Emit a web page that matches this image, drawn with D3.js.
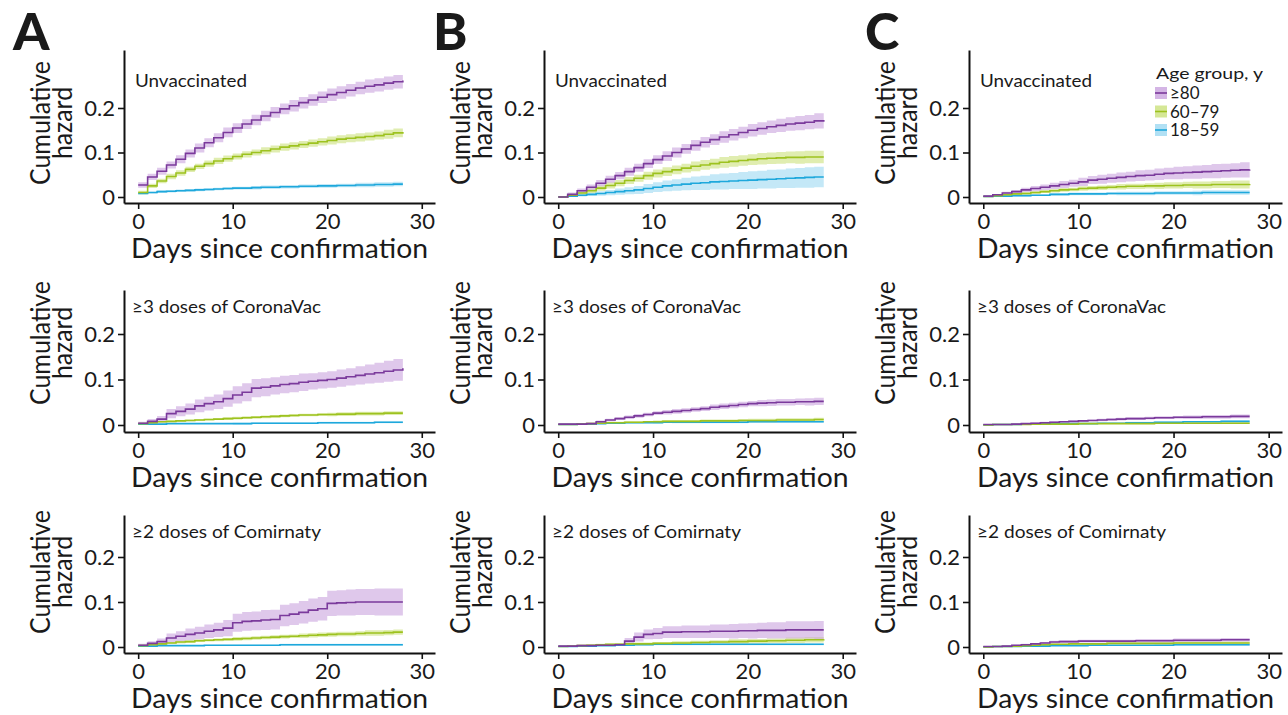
<!DOCTYPE html>
<html>
<head>
<meta charset="utf-8">
<script src="https://cdn.jsdelivr.net/npm/d3@7"></script>
<style>
  html, body { margin: 0; padding: 0; background: #ffffff; }
  svg { display: block; }
  text { font-family: Lato, "Open Sans", "DejaVu Sans", sans-serif; fill: #1a1a1a; }
</style>
</head>
<body>
<svg id="chart" width="1288" height="715"></svg>
<script>
// ---- Data -------------------------------------------------------------
const days = [0,1,2,3,4,5,6,7,8,9,10,11,12,13,14,15,16,17,18,19,20,21,22,23,24,25,26,27,28];
const panelLetters = ["A", "B", "C"];
const cohortLabels = ["Unvaccinated", "\u22653 doses of CoronaVac", "\u22652 doses of Comirnaty"];
const ageGroups = ["\u226580", "60\u201379", "18\u201359"];
const xTicks = [0, 10, 20, 30];
const yTicks = [0, 0.1, 0.2];
const yTickLabels = ["0", "0.1", "0.2"];

// Cumulative hazard (line) and half-width of the 95% band, per day
// Panel A, unvaccinated
const A_unv_80    = [0.027,0.045,0.058,0.072,0.085,0.098,0.110,0.122,0.133,0.145,0.155,0.164,0.173,0.182,0.190,0.198,0.205,0.212,0.218,0.224,0.230,0.235,0.240,0.245,0.249,0.252,0.256,0.259,0.262];
const A_unv_80_ci = [0.006,0.007,0.008,0.008,0.009,0.009,0.010,0.010,0.010,0.011,0.011,0.011,0.012,0.012,0.012,0.012,0.013,0.013,0.013,0.013,0.014,0.014,0.014,0.014,0.015,0.015,0.015,0.015,0.016];
const A_unv_60    = [0.010,0.025,0.036,0.046,0.054,0.062,0.069,0.075,0.081,0.086,0.091,0.096,0.100,0.104,0.108,0.112,0.115,0.118,0.121,0.124,0.127,0.130,0.132,0.134,0.136,0.138,0.141,0.144,0.146];
const A_unv_60_ci = [0.004,0.005,0.005,0.006,0.006,0.006,0.006,0.007,0.007,0.007,0.007,0.007,0.007,0.008,0.008,0.008,0.008,0.008,0.008,0.008,0.009,0.009,0.009,0.009,0.009,0.009,0.010,0.010,0.010];
const A_unv_18    = [0.008,0.010,0.012,0.013,0.014,0.015,0.016,0.017,0.018,0.019,0.020,0.020,0.021,0.022,0.022,0.023,0.023,0.024,0.024,0.025,0.025,0.026,0.026,0.027,0.027,0.028,0.028,0.029,0.029];
const A_unv_18_ci = [0.002,0.002,0.003,0.003,0.003,0.003,0.003,0.003,0.003,0.003,0.003,0.003,0.004,0.004,0.004,0.004,0.004,0.004,0.004,0.004,0.004,0.004,0.004,0.005,0.005,0.005,0.005,0.005,0.005];

// Panel B, unvaccinated
const B_unv_80    = [0.000,0.006,0.014,0.022,0.031,0.040,0.048,0.057,0.066,0.075,0.084,0.092,0.100,0.108,0.116,0.123,0.129,0.135,0.140,0.145,0.150,0.154,0.158,0.161,0.164,0.166,0.168,0.171,0.173];
const B_unv_80_ci = [0.002,0.004,0.005,0.006,0.007,0.008,0.008,0.009,0.009,0.010,0.010,0.011,0.011,0.011,0.012,0.012,0.012,0.013,0.013,0.013,0.014,0.014,0.014,0.015,0.015,0.016,0.016,0.017,0.017];
const B_unv_60    = [0.000,0.004,0.009,0.014,0.020,0.026,0.031,0.037,0.042,0.048,0.053,0.057,0.061,0.065,0.069,0.072,0.075,0.078,0.080,0.082,0.084,0.086,0.087,0.088,0.089,0.089,0.090,0.090,0.090];
const B_unv_60_ci = [0.001,0.003,0.004,0.005,0.006,0.007,0.007,0.008,0.008,0.009,0.009,0.010,0.010,0.010,0.011,0.011,0.011,0.012,0.012,0.012,0.012,0.013,0.013,0.013,0.013,0.014,0.014,0.014,0.014];
const B_unv_18    = [0.000,0.002,0.004,0.006,0.008,0.010,0.012,0.014,0.016,0.019,0.022,0.025,0.027,0.029,0.031,0.032,0.034,0.035,0.036,0.037,0.038,0.039,0.040,0.041,0.042,0.043,0.044,0.045,0.045];
const B_unv_18_ci = [0.001,0.002,0.003,0.004,0.005,0.006,0.007,0.008,0.009,0.010,0.011,0.012,0.013,0.014,0.015,0.016,0.017,0.018,0.018,0.019,0.020,0.020,0.021,0.021,0.022,0.022,0.023,0.023,0.024];

// Panel C, unvaccinated
const C_unv_80    = [0.002,0.005,0.009,0.012,0.016,0.019,0.022,0.025,0.028,0.031,0.034,0.038,0.040,0.042,0.044,0.046,0.048,0.049,0.051,0.053,0.054,0.055,0.056,0.057,0.058,0.059,0.060,0.061,0.062];
const C_unv_80_ci = [0.001,0.002,0.003,0.004,0.005,0.006,0.006,0.007,0.008,0.008,0.009,0.009,0.010,0.010,0.011,0.011,0.012,0.012,0.013,0.013,0.014,0.014,0.015,0.015,0.016,0.016,0.016,0.017,0.017];
const C_unv_60    = [0.001,0.003,0.005,0.007,0.008,0.010,0.012,0.014,0.016,0.017,0.019,0.020,0.021,0.022,0.023,0.024,0.024,0.025,0.025,0.026,0.026,0.027,0.027,0.027,0.028,0.028,0.028,0.028,0.029];
const C_unv_60_ci = [0.001,0.001,0.002,0.002,0.003,0.003,0.003,0.004,0.004,0.004,0.005,0.005,0.005,0.005,0.006,0.006,0.006,0.006,0.007,0.007,0.007,0.007,0.008,0.008,0.008,0.008,0.009,0.009,0.009];
const C_unv_18    = [0.001,0.002,0.002,0.003,0.003,0.004,0.004,0.006,0.006,0.007,0.007,0.007,0.007,0.008,0.008,0.008,0.008,0.008,0.009,0.009,0.009,0.009,0.009,0.010,0.010,0.010,0.010,0.010,0.010];
const C_unv_18_ci = [0.001,0.001,0.001,0.002,0.002,0.002,0.002,0.003,0.003,0.003,0.003,0.003,0.003,0.003,0.004,0.004,0.004,0.004,0.004,0.004,0.004,0.004,0.005,0.005,0.005,0.005,0.005,0.005,0.005];

// Panel A, >=3 doses CoronaVac
const A_cor_80    = [0.004,0.008,0.013,0.025,0.030,0.035,0.042,0.047,0.051,0.058,0.066,0.072,0.081,0.083,0.086,0.089,0.091,0.094,0.096,0.098,0.100,0.103,0.106,0.109,0.112,0.115,0.118,0.121,0.125];
const A_cor_80_ci = [0.003,0.005,0.007,0.010,0.011,0.012,0.014,0.015,0.016,0.018,0.019,0.020,0.020,0.020,0.019,0.019,0.019,0.019,0.018,0.018,0.018,0.019,0.019,0.020,0.021,0.022,0.023,0.024,0.025];
const A_cor_60    = [0.003,0.005,0.007,0.008,0.009,0.010,0.011,0.012,0.013,0.014,0.015,0.016,0.017,0.018,0.019,0.020,0.021,0.022,0.022,0.023,0.023,0.024,0.024,0.025,0.025,0.025,0.026,0.026,0.026];
const A_cor_60_ci = [0.001,0.001,0.002,0.002,0.002,0.002,0.002,0.002,0.002,0.003,0.003,0.003,0.003,0.003,0.003,0.003,0.003,0.003,0.003,0.003,0.004,0.004,0.004,0.004,0.004,0.004,0.004,0.004,0.004];
const A_cor_18    = [0.002,0.002,0.002,0.003,0.003,0.003,0.003,0.003,0.003,0.003,0.003,0.003,0.004,0.004,0.004,0.004,0.004,0.004,0.004,0.005,0.005,0.005,0.005,0.005,0.005,0.006,0.006,0.006,0.006];
const A_cor_18_ci = [0.001,0.001,0.001,0.001,0.001,0.001,0.001,0.001,0.001,0.001,0.002,0.002,0.002,0.002,0.002,0.002,0.002,0.002,0.002,0.002,0.002,0.002,0.002,0.002,0.002,0.002,0.002,0.002,0.002];

// Panel B, >=3 doses CoronaVac
const B_cor_80    = [0.002,0.002,0.002,0.003,0.007,0.011,0.014,0.017,0.020,0.023,0.026,0.028,0.030,0.032,0.034,0.036,0.039,0.041,0.043,0.045,0.047,0.048,0.049,0.050,0.050,0.051,0.051,0.052,0.052];
const B_cor_80_ci = [0.001,0.001,0.001,0.002,0.003,0.003,0.003,0.004,0.004,0.004,0.004,0.005,0.005,0.005,0.005,0.005,0.006,0.006,0.006,0.006,0.006,0.007,0.007,0.007,0.007,0.007,0.008,0.008,0.008];
const B_cor_60    = [0.001,0.001,0.002,0.003,0.004,0.005,0.005,0.006,0.006,0.007,0.007,0.008,0.008,0.008,0.008,0.009,0.009,0.009,0.009,0.010,0.010,0.010,0.010,0.011,0.011,0.011,0.011,0.012,0.012];
const B_cor_60_ci = [0.001,0.001,0.001,0.002,0.002,0.002,0.002,0.002,0.002,0.002,0.003,0.003,0.003,0.003,0.003,0.003,0.003,0.003,0.003,0.003,0.004,0.004,0.004,0.004,0.004,0.004,0.004,0.004,0.004];
const B_cor_18    = [0.001,0.001,0.002,0.002,0.003,0.004,0.004,0.005,0.005,0.005,0.005,0.006,0.006,0.006,0.006,0.006,0.006,0.006,0.006,0.006,0.007,0.007,0.007,0.007,0.007,0.007,0.007,0.007,0.007];
const B_cor_18_ci = [0.001,0.001,0.001,0.001,0.001,0.001,0.001,0.001,0.001,0.001,0.001,0.001,0.002,0.002,0.002,0.002,0.002,0.002,0.002,0.002,0.002,0.002,0.002,0.002,0.002,0.002,0.002,0.002,0.002];

// Panel C, >=3 doses CoronaVac
const C_cor_80    = [0.001,0.001,0.001,0.002,0.003,0.004,0.005,0.006,0.007,0.008,0.009,0.010,0.011,0.012,0.013,0.014,0.014,0.015,0.016,0.016,0.017,0.017,0.017,0.018,0.018,0.018,0.019,0.019,0.019];
const C_cor_80_ci = [0.001,0.001,0.001,0.001,0.001,0.002,0.002,0.002,0.002,0.002,0.002,0.002,0.003,0.003,0.003,0.003,0.003,0.003,0.003,0.003,0.003,0.004,0.004,0.004,0.004,0.004,0.004,0.004,0.004];
const C_cor_60    = [0.000,0.001,0.001,0.001,0.001,0.002,0.002,0.002,0.002,0.002,0.003,0.003,0.003,0.003,0.003,0.003,0.003,0.003,0.004,0.004,0.004,0.004,0.004,0.004,0.004,0.004,0.004,0.004,0.004];
const C_cor_60_ci = [0.000,0.001,0.001,0.001,0.001,0.001,0.001,0.001,0.001,0.001,0.001,0.001,0.001,0.001,0.001,0.001,0.001,0.001,0.002,0.002,0.002,0.002,0.002,0.002,0.002,0.002,0.002,0.002,0.002];
const C_cor_18    = [0.000,0.001,0.001,0.001,0.002,0.002,0.002,0.003,0.003,0.003,0.003,0.003,0.004,0.004,0.004,0.005,0.005,0.005,0.006,0.006,0.006,0.007,0.007,0.007,0.007,0.008,0.008,0.008,0.008];
const C_cor_18_ci = [0.000,0.001,0.001,0.001,0.001,0.001,0.001,0.001,0.001,0.001,0.001,0.001,0.001,0.001,0.001,0.002,0.002,0.002,0.002,0.002,0.002,0.002,0.002,0.002,0.002,0.002,0.002,0.002,0.002];

// Panel A, >=2 doses Comirnaty
const A_com_80    = [0.004,0.008,0.012,0.020,0.024,0.028,0.031,0.035,0.038,0.042,0.054,0.057,0.058,0.060,0.061,0.070,0.073,0.077,0.082,0.085,0.097,0.098,0.099,0.100,0.100,0.100,0.100,0.100,0.100];
const A_com_80_ci = [0.003,0.005,0.007,0.010,0.011,0.013,0.014,0.015,0.016,0.018,0.020,0.021,0.021,0.022,0.022,0.024,0.024,0.025,0.026,0.026,0.028,0.028,0.029,0.029,0.029,0.030,0.030,0.030,0.030];
const A_com_60    = [0.003,0.005,0.007,0.009,0.011,0.012,0.014,0.015,0.016,0.017,0.018,0.019,0.020,0.021,0.022,0.023,0.024,0.025,0.026,0.027,0.028,0.029,0.029,0.030,0.031,0.031,0.032,0.033,0.033];
const A_com_60_ci = [0.001,0.002,0.002,0.002,0.003,0.003,0.003,0.003,0.003,0.003,0.004,0.004,0.004,0.004,0.004,0.004,0.004,0.005,0.005,0.005,0.005,0.005,0.005,0.005,0.006,0.006,0.006,0.006,0.006];
const A_com_18    = [0.002,0.002,0.003,0.003,0.003,0.003,0.003,0.004,0.004,0.004,0.004,0.004,0.004,0.004,0.004,0.005,0.005,0.005,0.005,0.005,0.005,0.005,0.005,0.005,0.005,0.005,0.005,0.005,0.005];
const A_com_18_ci = [0.001,0.001,0.001,0.001,0.001,0.001,0.001,0.001,0.001,0.001,0.001,0.001,0.001,0.001,0.001,0.002,0.002,0.002,0.002,0.002,0.002,0.002,0.002,0.002,0.002,0.002,0.002,0.002,0.002];

// Panel B, >=2 doses Comirnaty
const B_com_80    = [0.002,0.002,0.003,0.003,0.004,0.004,0.005,0.013,0.022,0.028,0.030,0.033,0.033,0.034,0.034,0.034,0.035,0.035,0.035,0.036,0.036,0.037,0.037,0.037,0.038,0.038,0.038,0.038,0.038];
const B_com_80_ci = [0.001,0.001,0.002,0.002,0.002,0.002,0.003,0.007,0.010,0.011,0.012,0.013,0.013,0.014,0.014,0.014,0.015,0.015,0.016,0.016,0.017,0.017,0.018,0.018,0.019,0.019,0.019,0.020,0.020];
const B_com_60    = [0.001,0.002,0.003,0.004,0.005,0.006,0.006,0.007,0.007,0.007,0.008,0.008,0.009,0.009,0.010,0.010,0.011,0.011,0.012,0.012,0.013,0.013,0.014,0.014,0.015,0.015,0.016,0.016,0.017];
const B_com_60_ci = [0.001,0.001,0.002,0.002,0.002,0.002,0.003,0.003,0.003,0.003,0.003,0.003,0.004,0.004,0.004,0.004,0.004,0.004,0.005,0.005,0.005,0.005,0.005,0.005,0.006,0.006,0.006,0.006,0.006];
const B_com_18    = [0.001,0.001,0.002,0.002,0.003,0.003,0.004,0.004,0.005,0.005,0.006,0.006,0.006,0.006,0.006,0.006,0.006,0.006,0.006,0.006,0.006,0.006,0.006,0.006,0.006,0.006,0.006,0.006,0.006];
const B_com_18_ci = [0.001,0.001,0.001,0.001,0.001,0.001,0.001,0.001,0.001,0.001,0.002,0.002,0.002,0.002,0.002,0.002,0.002,0.002,0.002,0.002,0.002,0.002,0.002,0.002,0.002,0.002,0.002,0.002,0.002];

// Panel C, >=2 doses Comirnaty
const C_com_80    = [0.001,0.001,0.002,0.004,0.005,0.007,0.009,0.011,0.012,0.012,0.013,0.013,0.013,0.013,0.013,0.013,0.014,0.014,0.014,0.014,0.015,0.015,0.015,0.015,0.015,0.016,0.016,0.016,0.016];
const C_com_80_ci = [0.001,0.001,0.001,0.001,0.002,0.002,0.002,0.003,0.003,0.003,0.003,0.003,0.003,0.003,0.003,0.003,0.004,0.004,0.004,0.004,0.004,0.004,0.004,0.004,0.004,0.004,0.004,0.004,0.004];
const C_com_60    = [0.000,0.001,0.001,0.002,0.003,0.004,0.005,0.006,0.006,0.007,0.007,0.007,0.007,0.008,0.008,0.008,0.008,0.008,0.008,0.008,0.009,0.009,0.009,0.009,0.009,0.009,0.009,0.009,0.009];
const C_com_60_ci = [0.000,0.001,0.001,0.001,0.001,0.001,0.002,0.002,0.002,0.002,0.002,0.002,0.002,0.002,0.002,0.002,0.002,0.002,0.002,0.002,0.003,0.003,0.003,0.003,0.003,0.003,0.003,0.003,0.003];
const C_com_18    = [0.000,0.001,0.001,0.001,0.002,0.002,0.002,0.003,0.003,0.003,0.003,0.004,0.004,0.004,0.004,0.004,0.004,0.004,0.004,0.004,0.005,0.005,0.005,0.005,0.005,0.005,0.005,0.005,0.005];
const C_com_18_ci = [0.000,0.001,0.001,0.001,0.001,0.001,0.001,0.001,0.001,0.001,0.001,0.001,0.001,0.001,0.001,0.001,0.001,0.001,0.002,0.002,0.002,0.002,0.002,0.002,0.002,0.002,0.002,0.002,0.002];

// Grid of panels: rows = cohort, columns = analysis; each cell lists [line, band] per age group
const panelGrid = [
  [
    [[A_unv_80, A_unv_80_ci], [A_unv_60, A_unv_60_ci], [A_unv_18, A_unv_18_ci]],
    [[B_unv_80, B_unv_80_ci], [B_unv_60, B_unv_60_ci], [B_unv_18, B_unv_18_ci]],
    [[C_unv_80, C_unv_80_ci], [C_unv_60, C_unv_60_ci], [C_unv_18, C_unv_18_ci]]
  ],
  [
    [[A_cor_80, A_cor_80_ci], [A_cor_60, A_cor_60_ci], [A_cor_18, A_cor_18_ci]],
    [[B_cor_80, B_cor_80_ci], [B_cor_60, B_cor_60_ci], [B_cor_18, B_cor_18_ci]],
    [[C_cor_80, C_cor_80_ci], [C_cor_60, C_cor_60_ci], [C_cor_18, C_cor_18_ci]]
  ],
  [
    [[A_com_80, A_com_80_ci], [A_com_60, A_com_60_ci], [A_com_18, A_com_18_ci]],
    [[B_com_80, B_com_80_ci], [B_com_60, B_com_60_ci], [B_com_18, B_com_18_ci]],
    [[C_com_80, C_com_80_ci], [C_com_60, C_com_60_ci], [C_com_18, C_com_18_ci]]
  ]
];

// ---- Styling & layout --------------------------------------------------
const lineColors = ["#7b3a9c", "#9dc21f", "#1ea8dc"];
const bandColors = ["#c9a3de", "#cbe17c", "#9dd8f1"];

const colLeft  = [124, 544, 969];
const colWidth = [311, 312, 313];
const rowTop    = [50, 290, 515];
const rowBottom = [203, 432, 653];
const rowZero   = [197, 425, 647];
const rowPer01  = [44.5, 45.5, 45];
const titleMidY = [123, 343, 572];
const noteBase  = [87, 313, 538];
const xDomain = [-1.5, 31.4];

const svg = d3.select("#chart");

panelGrid.forEach((rowPanels, r) => {
  rowPanels.forEach((groupsData, c) => {
    const left = colLeft[c], right = colLeft[c] + colWidth[c];
    const x = d3.scaleLinear().domain(xDomain).range([left, right]);
    const yMin = -(rowBottom[r] - rowZero[r]) / rowPer01[r] * 0.1;
    const yMax = (rowZero[r] - rowTop[r]) / rowPer01[r] * 0.1;
    const y = d3.scaleLinear().domain([yMin, yMax]).range([rowBottom[r], rowTop[r]]);

    const g = svg.append("g");

    const area = d3.area().curve(d3.curveStepAfter)
      .x(d => x(d.day)).y0(d => y(d.lo)).y1(d => y(d.hi));
    const line = d3.line().curve(d3.curveStepAfter)
      .x(d => x(d.day)).y(d => y(d.v));

    // draw youngest first so the oldest group sits on top
    const order = [2, 1, 0];
    order.forEach(k => {
      const [vals, half] = groupsData[k];
      const rows = days.map((d, i) => ({ day: d, v: vals[i], lo: Math.max(0, vals[i] - half[i]), hi: vals[i] + half[i] }));
      g.append("path").datum(rows).attr("d", area)
        .attr("fill", bandColors[k]).attr("fill-opacity", 0.6).attr("stroke", "none");
    });
    order.forEach(k => {
      const [vals] = groupsData[k];
      const rows = days.map((d, i) => ({ day: d, v: vals[i] }));
      g.append("path").datum(rows).attr("d", line)
        .attr("fill", "none").attr("stroke", lineColors[k]).attr("stroke-width", 1.6);
    });

    // axes
    const xAxis = d3.axisBottom(x).tickValues(xTicks).tickSizeInner(6).tickSizeOuter(0).tickPadding(4);
    const yAxis = d3.axisLeft(y).tickValues(yTicks).tickFormat((d, i) => yTickLabels[i])
      .tickSizeInner(6).tickSizeOuter(0).tickPadding(3);

    const gx = g.append("g").attr("transform", `translate(0,${rowBottom[r]})`).call(xAxis);
    const gy = g.append("g").attr("transform", `translate(${left},0)`).call(yAxis);
    [gx, gy].forEach(a => {
      a.select(".domain").attr("stroke", "#111").attr("stroke-width", 2);
      a.selectAll(".tick line").attr("stroke", "#111").attr("stroke-width", 1.6);
      a.selectAll(".tick text").attr("font-size", 22).attr("fill", "#1a1a1a")
        .attr("font-family", "Lato, 'Open Sans', sans-serif");
    });

    // x-axis title
    g.append("text")
      .attr("x", (left + right) / 2).attr("y", rowBottom[r] + 55)
      .attr("text-anchor", "middle").attr("font-size", 26)
      .attr("textLength", 297).attr("lengthAdjust", "spacingAndGlyphs")
      .text("Days since confirmation");

    // y-axis title (two lines)
    g.append("text")
      .attr("transform", `translate(${left - 74},${titleMidY[r]}) rotate(-90)`)
      .attr("text-anchor", "middle").attr("font-size", 26)
      .attr("textLength", 124).attr("lengthAdjust", "spacingAndGlyphs")
      .text("Cumulative");
    g.append("text")
      .attr("transform", `translate(${left - 52},${titleMidY[r]}) rotate(-90)`)
      .attr("text-anchor", "middle").attr("font-size", 26)
      .attr("textLength", 72).attr("lengthAdjust", "spacingAndGlyphs")
      .text("hazard");

    // cohort note
    g.append("text")
      .attr("x", left + (r === 0 ? 11 : 8)).attr("y", noteBase[r])
      .attr("font-size", 17).attr("fill", "#2a2a2a")
      .attr("textLength", r === 0 ? 112 : 189).attr("lengthAdjust", "spacingAndGlyphs")
      .text(cohortLabels[r]);
  });
});

// panel letters
const letterX = [13, 433, 865];
panelLetters.forEach((L, c) => {
  svg.append("text").attr("x", letterX[c]).attr("y", 50)
    .attr("font-size", 52).attr("font-weight", 900).attr("fill", "#000").text(L);
});

// legend
const legend = svg.append("g").attr("transform", "translate(1155,0)");
legend.append("text").attr("x", 1).attr("y", 79).attr("font-size", 16)
  .attr("textLength", 107).attr("lengthAdjust", "spacingAndGlyphs").attr("fill", "#2a2a2a")
  .text("Age group, y");
ageGroups.forEach((lab, k) => {
  const cy = 93 + k * 18.5;
  legend.append("rect").attr("x", 0).attr("y", cy - 6).attr("width", 12).attr("height", 12)
    .attr("fill", bandColors[k]).attr("fill-opacity", 0.8);
  legend.append("line").attr("x1", 0).attr("x2", 12).attr("y1", cy).attr("y2", cy)
    .attr("stroke", lineColors[k]).attr("stroke-width", 1.6);
  legend.append("text").attr("x", 15).attr("y", cy + 6).attr("font-size", 17)
    .attr("fill", "#2a2a2a").text(lab);
});
</script>
</body>
</html>
